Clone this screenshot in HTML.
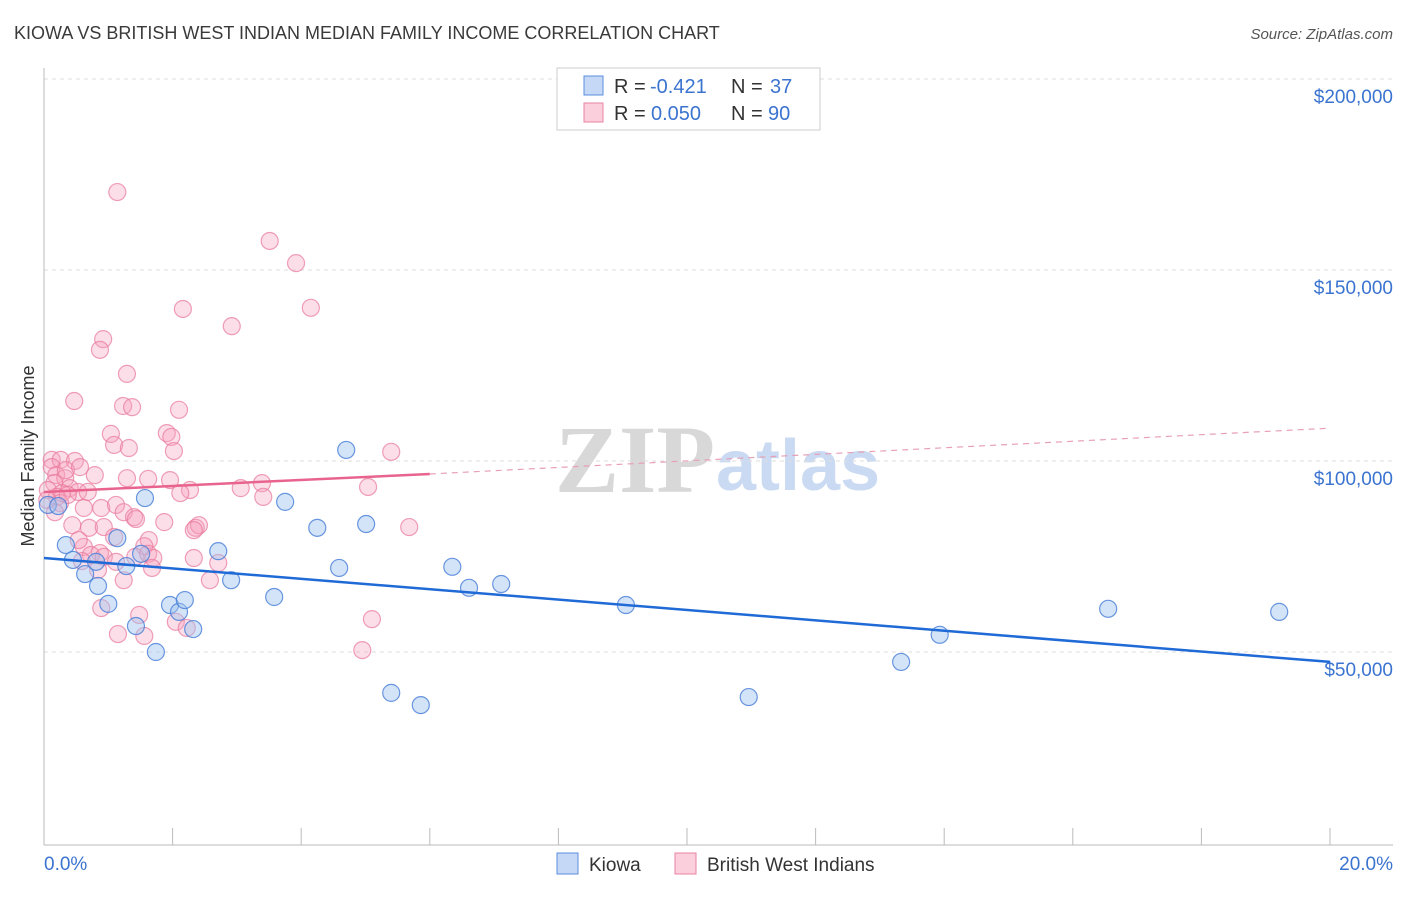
<!DOCTYPE html>
<html><head><meta charset="utf-8"><style>
body{margin:0;background:#fff;font-family:"Liberation Sans",sans-serif}
</style></head><body>
<svg id="chart" width="1406" height="892" viewBox="0 0 1406 892" xmlns="http://www.w3.org/2000/svg" font-family="Liberation Sans, sans-serif">
<text x="14" y="39" font-size="18" fill="#3a3a3a">KIOWA VS BRITISH WEST INDIAN MEDIAN FAMILY INCOME CORRELATION CHART</text>
<text x="1393" y="39" font-size="15" fill="#555" font-style="italic" text-anchor="end">Source: ZipAtlas.com</text>
<g>
<text x="555" y="492" font-size="96" fill="#d8d8d8" font-family="Liberation Serif, serif" font-weight="bold">ZIP</text>
<text x="716" y="490" font-size="72" fill="#c9daf2" font-weight="bold">atlas</text>
</g>
<g id="grid"></g><g id="axes"></g><g id="pts"></g><g id="trends"></g>
<text transform="translate(34,456) rotate(-90)" font-size="18" fill="#333" text-anchor="middle">Median Family Income</text>
<g>
<rect x="557" y="68" width="263" height="62" fill="#fff" stroke="#ccc"/>
<rect x="584" y="76" width="19" height="19" fill="#c5d8f5" stroke="#5b8ee0"/>
<rect x="584" y="103" width="19" height="19" fill="#fbcfdc" stroke="#e883a3"/>
<text x="614" y="93" font-size="20" fill="#333">R =</text>
<text x="650" y="93" font-size="20" fill="#3b74d0">-0.421</text>
<text x="731" y="93" font-size="20" fill="#333">N =</text>
<text x="770" y="93" font-size="20" fill="#3b74d0">37</text>
<text x="614" y="120" font-size="20" fill="#333">R =</text>
<text x="651" y="120" font-size="20" fill="#3b74d0">0.050</text>
<text x="731" y="120" font-size="20" fill="#333">N =</text>
<text x="768" y="120" font-size="20" fill="#3b74d0">90</text>
</g>
<g>
<rect x="557" y="853" width="21" height="21" fill="#c5d8f5" stroke="#5b8ee0"/>
<text x="589" y="871" font-size="19" fill="#333">Kiowa</text>
<rect x="675" y="853" width="21" height="21" fill="#fbcfdc" stroke="#e883a3"/>
<text x="707" y="871" font-size="19" fill="#333">British West Indians</text>
</g>
</svg>
<script>
const yTicks=[50,100,150,200];
const yTickLabels=["$50,000","$100,000","$150,000","$200,000"];
const xTicks=[0,2,4,6,8,10,12,14,16,18,20];
const kiowaX=[0.06,0.22,0.34,0.64,0.84,1.0,1.14,1.28,1.43,1.57,1.51,1.74,1.96,2.1,2.19,2.32,2.71,2.91,3.58,3.75,4.25,4.59,5.01,4.7,5.4,5.86,6.35,6.61,7.11,9.05,10.96,13.33,13.93,16.55,19.21,0.45,0.81];
const kiowaY=[88.5,88.2,78.0,70.4,67.3,62.6,79.8,72.5,56.8,90.3,75.7,50.0,62.3,60.5,63.6,56.0,76.4,68.8,64.4,89.3,82.5,72.0,83.5,102.9,39.3,36.1,72.3,66.8,67.8,62.3,38.2,47.4,54.5,61.3,60.5,74.1,73.6];
const bwiX=[1.14,3.51,3.92,4.15,2.16,2.92,0.92,0.87,1.29,0.47,1.23,1.37,2.10,1.04,1.91,1.98,1.09,1.32,2.02,5.40,0.12,0.26,0.48,0.12,0.19,0.33,0.16,0.40,0.53,0.06,0.28,0.20,0.68,1.29,1.62,1.96,2.27,3.06,3.39,3.41,5.04,2.12,0.62,0.89,1.12,1.24,1.40,1.43,1.87,2.36,2.41,2.33,0.44,0.70,0.93,1.09,1.63,1.56,0.62,0.87,0.73,0.93,1.12,1.42,1.62,1.70,2.33,2.71,0.59,0.84,1.24,2.58,1.48,0.89,2.05,2.22,1.15,1.56,5.10,4.95,5.68,0.54,0.25,0.37,0.17,0.05,0.34,0.56,0.79,1.68];
const bwiY=[170.4,157.6,151.8,140.1,139.8,135.3,131.9,129.1,122.8,115.7,114.4,114.1,113.4,107.1,107.3,106.3,104.2,103.4,102.6,102.4,100.3,100.3,100.0,98.4,96.3,95.5,94.2,92.9,91.9,92.4,91.6,90.6,91.9,95.5,95.3,95.0,92.4,92.9,94.2,90.6,93.2,91.6,87.7,87.7,88.5,86.6,85.3,84.8,84.0,82.5,83.2,81.9,83.2,82.5,82.7,80.1,79.3,77.7,77.5,75.9,75.4,74.9,73.6,74.9,75.7,74.6,74.6,73.3,73.8,71.5,68.8,68.8,59.7,61.5,57.9,56.3,54.7,54.2,58.6,50.5,82.7,79.3,89.0,91.1,86.6,89.8,97.6,98.4,96.3,72.0];
const kiowaTrend=[[0,74.6],[20,47.4]];
const bwiTrend=[[0,91.9],[6,96.6]];
const bwiTrendExt=[[6,96.6],[20,108.6]];
const NS="http://www.w3.org/2000/svg";
const xs=v=>44+v*64.3, ys=v=>843-v*3.82;
function mk(t,a,p){const e=document.createElementNS(NS,t);for(const k in a)e.setAttribute(k,a[k]);p.appendChild(e);return e;}
const grid=document.getElementById('grid'),axes=document.getElementById('axes'),pts=document.getElementById('pts'),tr=document.getElementById('trends');
yTicks.forEach((v,i)=>{
 const l=mk('line',{x1:44,x2:1393,y1:ys(v),y2:ys(v),stroke:'#ddd','stroke-dasharray':'4,4'},grid);
 
 
 const t=mk('text',{x:1393,y:ys(v)+24,'font-size':19,fill:'#3b74d0','text-anchor':'end'},grid);
 t.textContent=yTickLabels[i];
 
 
});
mk('line',{x1:44,x2:44,y1:68,y2:845,stroke:'#bbb'},axes);
mk('line',{x1:44,x2:1393,y1:845,y2:845,stroke:'#bbb'},axes);
xTicks.forEach(v=>{const l=mk('line',{x1:xs(v),x2:xs(v),y1:828,y2:845,stroke:'#bbb'},axes);
 
 });
const x0=mk('text',{x:44,y:870,'font-size':19,fill:'#3b74d0'},axes);x0.textContent='0.0%';


const x1=mk('text',{x:1393,y:870,'font-size':19,fill:'#3b74d0','text-anchor':'end'},axes);x1.textContent='20.0%';


bwiX.forEach((v,i)=>{const c=mk('circle',{cx:xs(v),cy:ys(bwiY[i]),r:8.5,fill:'rgba(246,160,188,0.35)',stroke:'rgba(232,120,155,0.7)','stroke-width':1.2},pts);
 
 });
kiowaX.forEach((v,i)=>{const c=mk('circle',{cx:xs(v),cy:ys(kiowaY[i]),r:8.5,fill:'rgba(160,195,240,0.45)',stroke:'rgba(70,125,215,0.8)','stroke-width':1.2},pts);
 
 });
function line(d,st,w,dash,name){const l=mk('line',{x1:xs(d[0][0]),y1:ys(d[0][1]),x2:xs(d[1][0]),y2:ys(d[1][1]),stroke:st,'stroke-width':w},tr);if(dash)l.setAttribute('stroke-dasharray',dash);
 
 }
line(kiowaTrend,'#1f6ad6',2.5,null,'kiowa-trend-line');
line(bwiTrend,'#e8648f',2.5,null,'bwi-trend-line');
line(bwiTrendExt,'#e8a0b8',1.2,'6,5','bwi-trend-extension');
</script>
</body></html>
